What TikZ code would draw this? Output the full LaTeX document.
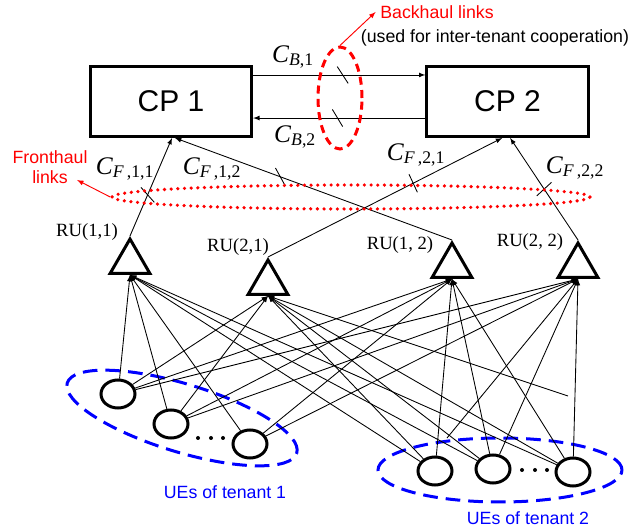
\documentclass[tikz,border=0pt]{standalone}
\usepackage{fontspec}
\setmainfont{Liberation Serif}
\setsansfont{Liberation Sans}
\usetikzlibrary{shapes.geometric,decorations.markings,positioning}

\newcommand{\capC}[1]{\textit{C}\textsubscript{#1}}

\tikzset{
  cpbox/.style={draw, line width=2.25pt, minimum width=121pt, minimum height=52.5pt, font=\sffamily\fontsize{22.5}{24}\selectfont},
  ru/.style={draw, regular polygon, regular polygon sides=3, line width=2.25pt, minimum size=34.5pt, inner sep=0pt},
  ue/.style={draw, ellipse, line width=2.25pt, minimum width=25.5pt, minimum height=21pt, inner sep=0pt},
  grp/.style={draw=blue, ellipse, line width=2.25pt, dash pattern=on 11pt off 6pt},
  link/.style={->, line width=0.65pt},
  cut/.style 2 args={postaction={decorate, decoration={markings, mark=at position #1 with {\draw[-, line width=0.65pt] (#2:7.5pt) -- (#2+180:7.5pt);}}}},
  lab/.style={font=\fontsize{14}{16}\selectfont},
  caplab/.style={font=\fontsize{19}{20}\selectfont},
  note/.style={font=\sffamily\fontsize{13.3}{14.5}\selectfont}
}

\begin{document}
\begin{tikzpicture}[x=0.75pt, y=-0.75pt, >=latex]
        \useasboundingbox (0,0) rectangle (644,531);
        % CPs
        \node[cpbox] (cp1) at (171,101.5) {CP 1};
        \node[cpbox] (cp2) at (507.5,101.5) {CP 2};
        % RUs
        \node[ru] (ru11) at (130,262) {};
        \node[ru] (ru21) at (268,283) {};
        \node[ru] (ru12) at (452,266) {};
        \node[ru] (ru22) at (578,266) {};
        \node[lab] (ru11lab) at (87,232) {RU(1,1)};
        \node[lab] (ru21lab) at (238,247) {RU(2,1)};
        \node[lab] (ru12lab) at (400,245) {RU(1, 2)};
        \node[lab] (ru22lab) at (530,242) {RU(2, 2)};
        % UE groups
        \node[grp, minimum width=180pt, minimum height=51pt, rotate=-17] (grpA) at (182,418) {};
        \node[grp, minimum width=183pt, minimum height=48pt] (grpB) at (500,470) {};
        \node[ue] (ua1) at (118,394) {};
        \node[ue] (ua2) at (171,424) {};
        \node[ue] (ua3) at (250,444) {};
        \node[ue] (ub1) at (435,471) {};
        \node[ue] (ub2) at (493,469) {};
        \node[ue] (ub3) at (573,472) {};
        \foreach \x in {198,211,223} \fill (\x,438) circle (1.5pt);
        \foreach \x in {522,535,547} \fill (\x,470) circle (1.5pt);
        \node[note, text=blue] (t1txt) at (225,492) {UEs of tenant 1};
        \node[note, text=blue] (t2txt) at (528,518) {UEs of tenant 2};
        % Backhaul
        \draw[link, cut={0.52}{-57}] ([yshift=19.9pt]cp1.east) -- ([yshift=19.9pt]cp2.west);
        \draw[link, cut={0.51}{-59}] ([yshift=-12.4pt]cp2.west) -- ([yshift=-12.4pt]cp1.east);
        \node[caplab] (cb1) at (293,57) {\capC{\textit{B},1}};
        \node[caplab] (cb2) at (295,137) {\capC{\textit{B},2}};
        \node[draw=red, ellipse, line width=2.25pt, dash pattern=on 6pt off 4pt, minimum width=33pt, minimum height=76.5pt] (bh) at (340,98) {};
        \node[note, text=red] (bhtxt) at (437,12) {Backhaul links};
        \node[note] (coop) at (495,38) {(used for inter-tenant cooperation)};
        \draw[->, red, line width=0.7pt] (bh.north) -- (bhtxt.west);
        % Fronthaul
        \draw[link, cut={0.42}{65}] (ru11.corner 1) -- ([xshift=0.75pt]cp1.south);
        \draw[link, cut={0.62}{-41}] (ru12.corner 1) -- ([xshift=3pt]cp1.south);
        \draw[link, cut={0.62}{-92}] (ru21.corner 1) -- ([xshift=-4pt]cp2.south);
        \draw[link, cut={0.5}{-81}] (ru22.corner 1) -- ([xshift=2pt]cp2.south);
        \node[caplab] (cf11) at (125,169) {\capC{\textit{F}\,,1,1}};
        \node[caplab] (cf12) at (212,169) {\capC{\textit{F}\,,1,2}};
        \node[caplab] (cf21) at (416,155) {\capC{\textit{F}\,,2,1}};
        \node[caplab] (cf22) at (575,168) {\capC{\textit{F}\,,2,2}};
        \node[draw=red, ellipse, line width=2.7pt, dash pattern=on 0pt off 5pt, line cap=round, minimum width=358.5pt, minimum height=18pt] (fh) at (351,197) {};
        \node[note, text=red, align=center] (fhtxt) at (50,167) {Fronthaul\\links};
        \coordinate (fhtip) at (77,180);
        \draw[->, red, line width=0.7pt] (fh.west) -- (fhtip);
        % UE -> RU(1,1)
        \draw[link] (ua1) -- (ru11.side 2);
        \draw[link] (ua2) -- (ru11.side 2);
        \draw[link] (ua3) -- (ru11.side 2);
        \draw[link] (ub1) -- (ru11.side 2);
        \draw[link] (ub2) -- (ru11.side 2);
        \draw[link] (ub3) -- (ru11.side 2);
        % UE -> RU(2,1)
        \coordinate (loose) at (568,396);
        \draw[link] (ua1) -- (ru21.side 2);
        \draw[link] (ua2) -- (ru21.side 2);
        \draw[link] (ub1) -- (ru21.side 2);
        \draw[link] (ub2) -- (ru21.side 2);
        \draw[link] (ub3) -- (ru21.side 2);
        \draw[link] (loose) -- (ru21.side 2);
        % UE -> RU(1,2)
        \draw[link] (ua1) -- (ru12.side 2);
        \draw[link] (ua2) -- (ru12.side 2);
        \draw[link] (ua3) -- (ru12.side 2);
        \draw[link] (ub1) -- (ru12.side 2);
        \draw[link] (ub2) -- (ru12.side 2);
        \draw[link] (ub3) -- (ru12.side 2);
        % UE -> RU(2,2)
        \coordinate (short) at (447,438);
        \draw[link] (ua1) -- (ru22.side 2);
        \draw[link] (ua2) -- (ru22.side 2);
        \draw[link] (ua3) -- (ru22.side 2);
        \draw[link] (short) -- (ru22.side 2);
        \draw[link] (ub2) -- (ru22.side 2);
        \draw[link] (ub3) -- (ru22.side 2);
\end{tikzpicture}
\end{document}
